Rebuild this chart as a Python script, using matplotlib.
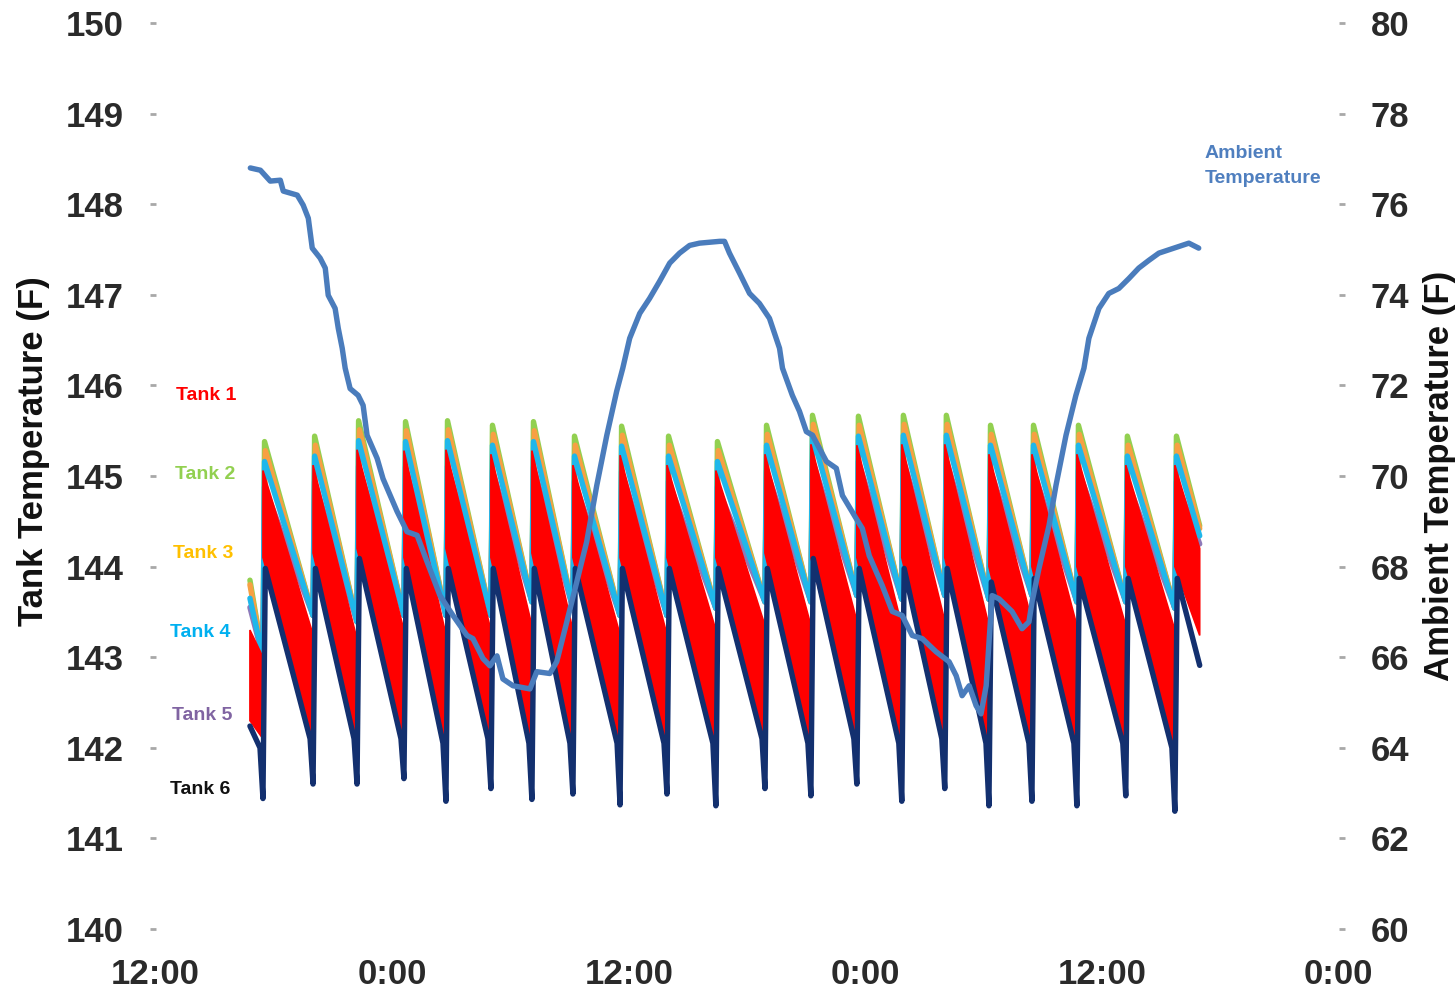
import matplotlib
matplotlib.use("Agg")
import matplotlib.pyplot as plt

# ---- time base (hours after 12:00 on the first day) ----
record_start = 4.79
record_end = 52.96
cycle_start = [5.45, 7.99, 10.22, 12.60, 14.73, 17.01, 19.09, 21.17, 23.56, 25.94,
               28.42, 30.91, 33.24, 35.57, 37.85, 40.03, 42.27, 44.45, 46.73, 49.21, 51.70]

# ---- tanks 2-5: peak right after each recovery, trough right before it ----
tank2_peak = [145.38, 145.44, 145.61, 145.60, 145.61, 145.56, 145.60, 145.44, 145.55, 145.44,
              145.38, 145.56, 145.67, 145.66, 145.67, 145.67, 145.56, 145.56, 145.56, 145.44, 145.44]
tank3_peak = [145.28, 145.34, 145.51, 145.50, 145.51, 145.46, 145.50, 145.34, 145.45, 145.34,
              145.28, 145.46, 145.57, 145.56, 145.57, 145.57, 145.46, 145.46, 145.46, 145.34, 145.34]
tank4_peak = [145.16, 145.22, 145.39, 145.38, 145.39, 145.34, 145.38, 145.22, 145.33, 145.22,
              145.16, 145.34, 145.45, 145.44, 145.45, 145.45, 145.34, 145.34, 145.34, 145.22, 145.22]
tank5_peak = [144.88, 144.94, 145.11, 145.10, 145.11, 145.06, 145.10, 144.94, 145.05, 144.94,
              144.88, 145.06, 145.17, 145.16, 145.17, 145.17, 145.06, 145.06, 145.06, 144.94, 144.94]
upper_trough = [143.00, 143.46, 143.39, 143.46, 143.46, 143.46, 143.61, 143.54, 143.46, 143.46,
                143.54, 143.61, 143.61, 143.68, 143.64, 143.68, 143.64, 143.68, 143.61, 143.61, 143.54]
upper_first = {"2": 143.85, "3": 143.80, "4": 143.65, "5": 143.55}
upper_last = {"2": 144.45, "3": 144.42, "4": 144.34, "5": 144.25}

# ---- tank 6 ----
tank6_peak = [143.98, 143.98, 144.09, 143.98, 143.98, 143.98, 143.98, 143.98, 143.98, 143.98,
              143.98, 143.98, 144.09, 143.98, 143.98, 143.98, 143.83, 143.87, 143.87, 143.87, 143.87]
tank6_knee = [142.00, 142.10, 142.10, 142.10, 142.05, 142.10, 142.05, 142.05, 142.05, 142.05,
              142.05, 142.10, 142.05, 142.10, 142.05, 142.10, 142.05, 142.05, 142.05, 142.05, 142.00]
tank6_trough = [141.44, 141.60, 141.60, 141.66, 141.41, 141.55, 141.43, 141.49, 141.37, 141.49,
                141.36, 141.55, 141.47, 141.60, 141.41, 141.55, 141.36, 141.41, 141.36, 141.47, 141.30]
tank6_first = 142.24
tank6_last = 142.91

# ---- tank 1 spread (fast swings between a top and bottom envelope) per segment ----
red_top_start = [143.30, 145.06, 145.12, 145.29, 145.28, 145.29, 145.24, 145.28, 145.12, 145.23, 145.12,
                 145.06, 145.24, 145.35, 145.34, 145.35, 145.35, 145.24, 145.24, 145.24, 145.12, 145.12]
red_top_end = [143.00, 143.25, 143.20, 143.30, 143.25, 143.30, 143.35, 143.30, 143.25, 143.25, 143.30,
               143.35, 143.35, 143.40, 143.35, 143.40, 143.35, 143.40, 143.35, 143.35, 143.30, 144.20]
red_bot_start = [142.30, 144.10, 144.15, 144.20, 144.10, 144.20, 144.10, 144.15, 144.10, 144.10, 144.10,
                 144.10, 144.15, 144.10, 144.10, 144.10, 144.10, 144.00, 144.00, 144.00, 144.00, 144.00]
red_bot_end = [142.10, 142.05, 142.10, 142.05, 141.95, 142.05, 142.00, 142.00, 141.95, 142.00, 142.00,
               142.05, 142.00, 142.05, 141.95, 142.05, 141.95, 142.00, 141.95, 142.00, 141.95, 143.24]

# ---- ambient temperature (right axis) ----
amb_hours = [4.81, 5.32, 5.82, 6.33, 6.48, 7.19, 7.49, 7.75, 7.95, 8.35, 8.61, 8.76, 9.11, 9.27, 9.47,
             9.62, 9.87, 10.28, 10.53, 10.73, 11.24, 11.54, 12.25, 12.76, 13.27, 13.77, 14.43, 15.09,
             15.80, 16.10, 16.61, 16.96, 17.32, 17.62, 18.13, 18.99, 19.34, 20.00, 20.35, 20.86, 21.37,
             21.87, 22.38, 22.89, 23.39, 23.70, 24.05, 24.56, 25.06, 25.57, 26.08, 26.58, 27.09, 27.59,
             28.10, 28.61, 28.86, 29.11, 29.62, 30.13, 30.63, 31.14, 31.65, 31.80, 32.30, 32.66, 33.01,
             33.32, 34.03, 34.53, 34.84, 35.54, 35.85, 36.20, 36.86, 37.37, 37.87, 38.38, 38.89, 39.59,
             40.25, 40.61, 40.91, 41.27, 41.62, 41.87, 42.13, 42.43, 42.78, 43.44, 43.95, 44.30, 44.46,
             44.81, 45.32, 45.67, 46.18, 46.68, 47.09, 47.34, 47.85, 48.35, 48.86, 49.37, 49.87, 50.38,
             50.89, 51.65, 52.41, 52.91]
amb_temp = [76.80, 76.75, 76.51, 76.53, 76.29, 76.20, 75.98, 75.69, 75.03, 74.81, 74.59, 73.99, 73.70,
            73.26, 72.82, 72.38, 71.93, 71.78, 71.56, 70.90, 70.39, 69.94, 69.22, 68.77, 68.69, 68.11,
            67.36, 66.92, 66.48, 66.41, 65.97, 65.81, 66.03, 65.52, 65.37, 65.30, 65.68, 65.64, 65.90,
            66.78, 67.67, 68.55, 69.79, 70.90, 71.87, 72.38, 73.04, 73.59, 73.92, 74.30, 74.70, 74.92,
            75.09, 75.14, 75.16, 75.18, 75.18, 74.92, 74.48, 74.03, 73.81, 73.48, 72.82, 72.38, 71.78,
            71.43, 70.98, 70.90, 70.32, 70.17, 69.57, 69.06, 68.84, 68.24, 67.58, 67.01, 66.92, 66.48,
            66.41, 66.12, 65.90, 65.59, 65.15, 65.37, 64.93, 64.75, 65.37, 67.36, 67.29, 67.01, 66.63,
            66.78, 67.23, 67.96, 68.91, 69.79, 70.90, 71.78, 72.38, 73.04, 73.70, 74.03, 74.14, 74.36,
            74.59, 74.76, 74.92, 75.03, 75.14, 75.03]

x_ticks = [0, 12, 24, 36, 48, 60]
x_labels = ["12:00", "0:00", "12:00", "0:00", "12:00", "0:00"]
left_ticks = list(range(140, 151))
right_ticks = list(range(60, 81, 2))

tank_names = ["Tank 1", "Tank 2", "Tank 3", "Tank 4", "Tank 5", "Tank 6"]
tank_label_x = [2.55, 2.50, 2.40, 2.25, 2.35, 2.25]
tank_label_y = [145.89, 145.02, 144.14, 143.27, 142.36, 141.54]
tank_label_colors = ["#ff0000", "#92d050", "#ffc000", "#00b0f0", "#8064a2", "#111111"]


def sawtooth(first, peaks, troughs, last, rise=0.08, knees=None, knee_lead=0.15):
    t, v = [record_start], [first]
    for k, t0 in enumerate(cycle_start):
        if knees is not None:
            t.append(t0 - knee_lead)
            v.append(knees[k])
        t += [t0, t0 + rise]
        v += [troughs[k], peaks[k]]
    t.append(record_end)
    v.append(last)
    return t, v


plt.rcParams["font.family"] = ["Liberation Sans", "DejaVu Sans"]
fig = plt.figure(figsize=(14.56, 9.89), dpi=100)
ax = fig.add_axes([155.5 / 1456, 1 - 929 / 989, (1338.5 - 155.5) / 1456, (929 - 23) / 989])
ax.set_xlim(0, 60)
ax.set_ylim(140, 150)

# tank 1: filled spread for each heating segment
bounds = [record_start] + cycle_start + [record_end]
for j in range(len(bounds) - 1):
    s, e = bounds[j], bounds[j + 1]
    ax.fill([s, s, e, e], [red_bot_start[j], red_top_start[j], red_top_end[j], red_bot_end[j]],
            color="#ff0000", lw=1.2, zorder=3)

line_kw = dict(lw=3.9, solid_joinstyle="round", solid_capstyle="round")
t, v = sawtooth(upper_first["2"], tank2_peak, upper_trough, upper_last["2"])
ax.plot(t, v, color="#92d050", zorder=2, **line_kw)
t, v = sawtooth(upper_first["3"], tank3_peak, upper_trough, upper_last["3"], rise=0.12)
ax.plot(t, v, color="#f7a043", zorder=2.1, **line_kw)
t, v = sawtooth(upper_first["5"], tank5_peak, upper_trough, upper_last["5"])
ax.plot(t, v, color="#8e79b9", zorder=2.2, **line_kw)
t, v = sawtooth(upper_first["4"], tank4_peak, upper_trough, upper_last["4"])
ax.plot(t, v, color="#1fb7ea", zorder=2.3, **line_kw)
t, v = sawtooth(tank6_first, tank6_peak, tank6_trough, tank6_last, rise=0.12, knees=tank6_knee)
ax.plot(t, v, color="#13306f", zorder=4, **line_kw)

for name, x, y, c in zip(tank_names, tank_label_x, tank_label_y, tank_label_colors):
    ax.text(x, y, name, color=c, fontsize=14, fontweight="bold", ha="center", va="center")

for side in ["top", "bottom", "left", "right"]:
    ax.spines[side].set_visible(False)
ax.set_xticks(x_ticks)
ax.set_xticklabels(x_labels)
ax.set_yticks(left_ticks)
ax.tick_params(axis="x", length=0, pad=21, labelsize=25, labelcolor="#2a2a2a")
ax.tick_params(axis="y", length=4, width=2, color="#a8a8a8", pad=19, labelsize=25, labelcolor="#2a2a2a")
for lab in ax.get_xticklabels() + ax.get_yticklabels():
    lab.set_fontweight("bold")
ax.set_ylabel("Tank Temperature (F)", fontsize=25, fontweight="bold", color="#111111")
ax.yaxis.set_label_coords(-0.089, 0.527)

ax2 = ax.twinx()
ax2.set_ylim(60, 80)
ax2.set_yticks(right_ticks)
ax2.plot(amb_hours, amb_temp, color="#4a7cbc", zorder=5, **line_kw)
ax2.text(53.2, 76.85, "Ambient\nTemperature", color="#4f7fbf", fontsize=14, fontweight="bold",
         ha="left", va="center", linespacing=1.6)
for side in ["top", "bottom", "left", "right"]:
    ax2.spines[side].set_visible(False)
ax2.tick_params(axis="y", length=4, width=2, color="#a8a8a8", pad=19, labelsize=25, labelcolor="#2a2a2a")
for lab in ax2.get_yticklabels():
    lab.set_fontweight("bold")
ax2.set_ylabel("Ambient Temperature (F)", fontsize=25, fontweight="bold", color="#111111", labelpad=10)

fig.savefig("out.png", dpi=100, facecolor="white")
